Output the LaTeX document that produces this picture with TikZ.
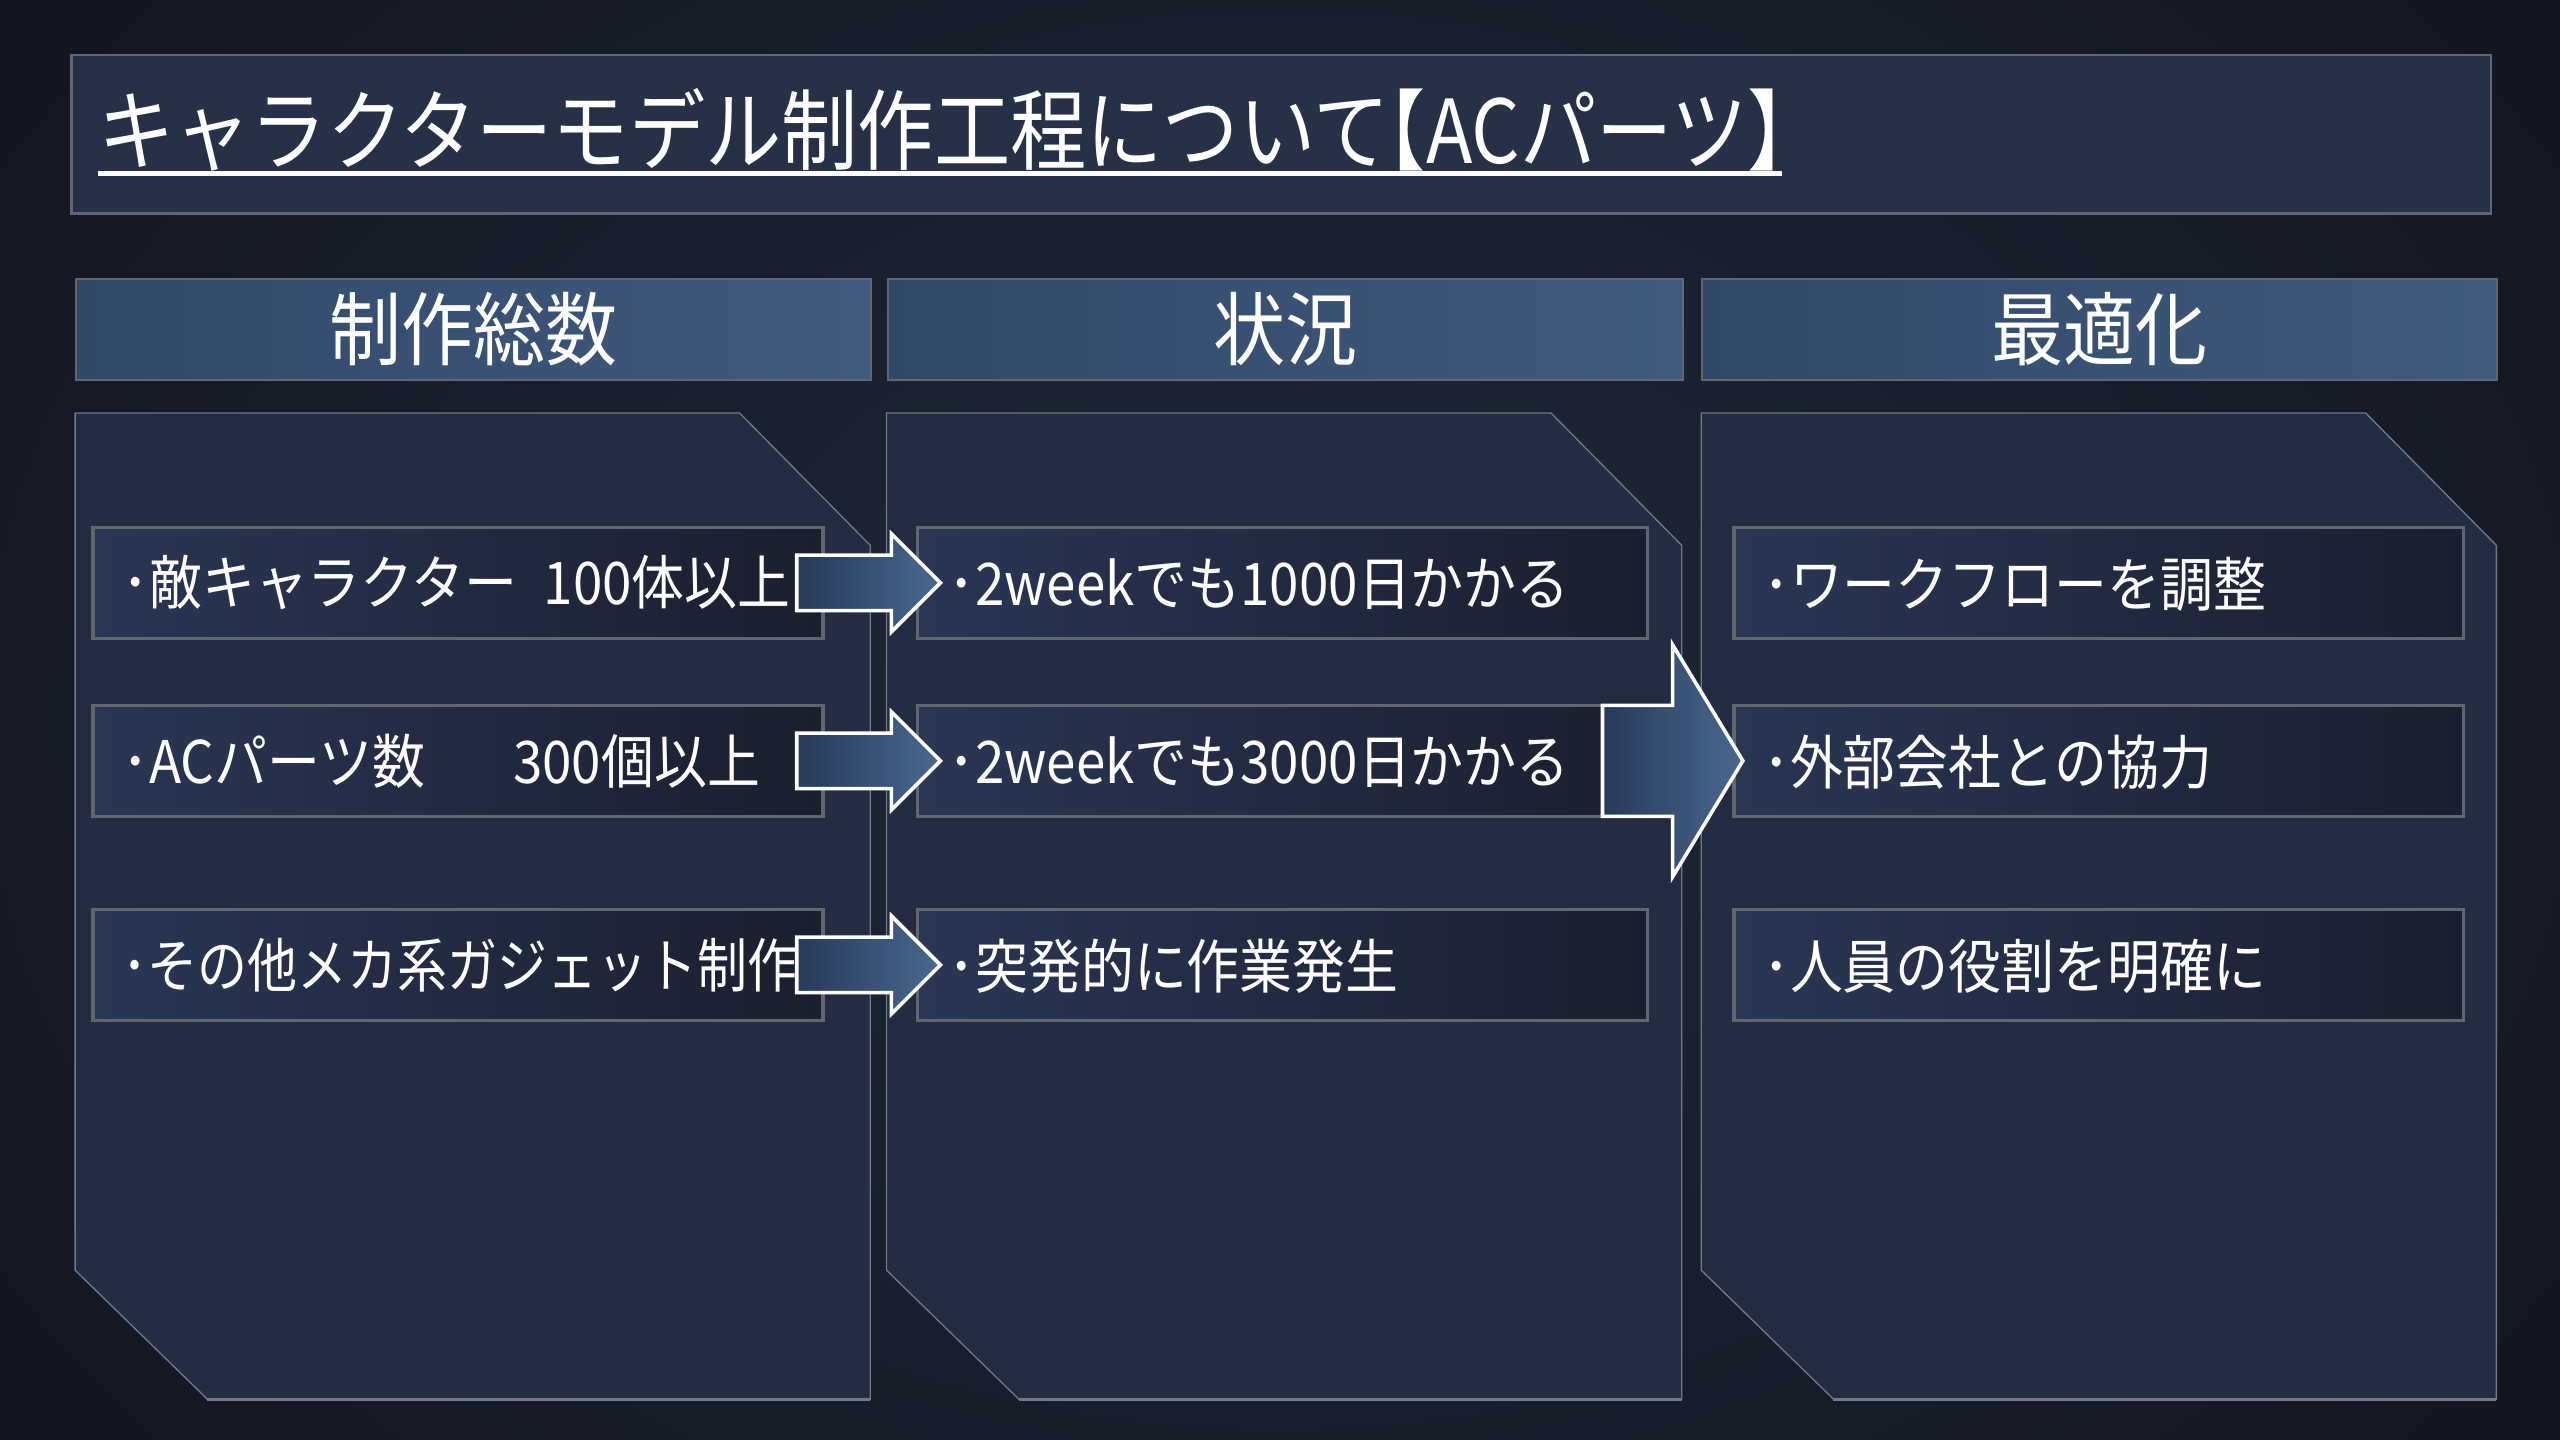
\documentclass[tikz,border=0pt]{standalone}
\usepackage{fontspec}
\newfontfamily\jp{Noto Sans CJK JP}[FakeStretch=0.9]
\newfontfamily\jpn{Noto Sans CJK JP}[FakeStretch=0.85]
\newfontfamily\jpt{Noto Sans CJK JP}[FakeStretch=0.865]
\usetikzlibrary{calc}
\definecolor{bgA}{RGB}{18,22,33}
\definecolor{bgB}{RGB}{32,40,56}
\definecolor{panelfill}{RGB}{35,44,64}
\definecolor{paneledge}{RGB}{112,122,138}
\definecolor{titlefill}{RGB}{38,49,72}
\definecolor{boxedge}{RGB}{98,102,112}
\definecolor{hdrA}{RGB}{50,72,104}
\definecolor{hdrB}{RGB}{64,90,126}
\definecolor{itemA}{RGB}{42,54,84}
\definecolor{itemB}{RGB}{26,31,46}
\definecolor{arrA}{RGB}{38,58,90}
\definecolor{arrB}{RGB}{74,104,142}
\begin{document}
\begin{tikzpicture}[x=1pt,y=-1pt,
  panel/.style={fill=panelfill, draw=paneledge, line width=0.8pt, line join=miter},
  titlebox/.style={fill=titlefill, draw=boxedge, line width=1.5pt, minimum width=1482pt, minimum height=97pt, anchor=north west, inner sep=0pt},
  hdr/.style={draw=boxedge, line width=1.2pt, left color=hdrA, right color=hdrB, minimum width=487pt, minimum height=62pt, anchor=north west, inner sep=0pt, text=white, font=\jp\fontsize{49}{52}\selectfont},
  item/.style={draw=boxedge, line width=2pt, left color=itemA, right color=itemB, minimum width=447pt, minimum height=68pt, anchor=north west, inner sep=0pt},
  itxt/.style={anchor=west, inner sep=0pt, text=white, font=\jp\fontsize{36}{40}\selectfont},
  blk/.style={draw=white, line width=2.2pt, left color=arrA, right color=arrB, line join=miter},
]
\useasboundingbox (0,0) rectangle (1568,882);
\fill[bgA] (0,0) rectangle (1568,882);
\shade[inner color=bgB, outer color=bgA] (-200,-300) rectangle (1768,1182);

% title
\node[titlebox] (tbox) at (43,33) {};
\node[anchor=base west, inner sep=0pt, text=white, font=\jpt\fontsize{54}{58}\selectfont] (title) at (60,100) {キャラクターモデル制作工程について\kern-0.45em【ACパーツ】\kern-0.48em};
\draw[white, line width=3pt] ($(title.base west)+(0,6)$) -- ($(title.base east)+(0,6)$);

% panels
\path[panel] (46,253) -- (453,253) -- (533,334) -- (533,857) -- (127,857) -- (46,778) -- cycle;
\path[panel] (543,253) -- (950,253) -- (1030,334) -- (1030,857) -- (624,857) -- (543,778) -- cycle;
\path[panel] (1042,253) -- (1449,253) -- (1529,334) -- (1529,857) -- (1123,857) -- (1042,778) -- cycle;
\draw[paneledge, line width=2pt] (127,857) -- (533,857);
\draw[paneledge, line width=2pt] (624,857) -- (1030,857);
\draw[paneledge, line width=2pt] (1123,857) -- (1529,857);

% headers
\node[hdr] (h1) at (46,170) {制作総数};
\node[hdr] (h2) at (543,170) {状況};
\node[hdr] (h3) at (1042,170) {最適化};

% item boxes
\node[item] (a1) at (56,322) {};
\node[item] (a2) at (56,431) {};
\node[item] (a3) at (56,556) {};
\node[item] (b1) at (561,322) {};
\node[item] (b2) at (561,431) {};
\node[item] (b3) at (561,556) {};
\node[item] (c1) at (1061,322) {};
\node[item] (c2) at (1061,431) {};
\node[item] (c3) at (1061,556) {};

% item texts
\node[itxt] (ta1) at (75,357) {･敵キャラクター\hspace{0.45em}100体以上};
\node[itxt] (ta2) at (75,466) {･ACパーツ数\hspace{1.5em}300個以上};
\node[itxt, font=\jpn\fontsize{36}{40}\selectfont] (ta3) at (75,591) {･その他メカ系ガジェット制作};
\node[itxt] (tb1) at (581,358) {･2weekでも1000日かかる};
\node[itxt] (tb2) at (581,467) {･2weekでも3000日かかる};
\node[itxt] (tb3) at (581,592) {･突発的に作業発生};
\node[itxt] (tc1) at (1080,358) {･ワークフローを調整};
\node[itxt] (tc2) at (1080,467) {･外部会社との協力};
\node[itxt] (tc3) at (1080,592) {･人員の役割を明確に};

% small block arrows
\foreach \r in {1,2,3}{
  \draw[blk, shift={($(a\r.east)!.5!(b\r.west)$)}]
    (-45,-17) -- (13,-17) -- (13,-30) -- (43,0) -- (13,30) -- (13,17) -- (-45,17) -- cycle;
}
% big block arrow
\draw[blk, shift={($(b2.east)!.5!(c2.west)$)}]
  (-54,-34) -- (-11,-34) -- (-11,-71) -- (32,0) -- (-11,71) -- (-11,34) -- (-54,34) -- cycle;
\end{tikzpicture}
\end{document}
